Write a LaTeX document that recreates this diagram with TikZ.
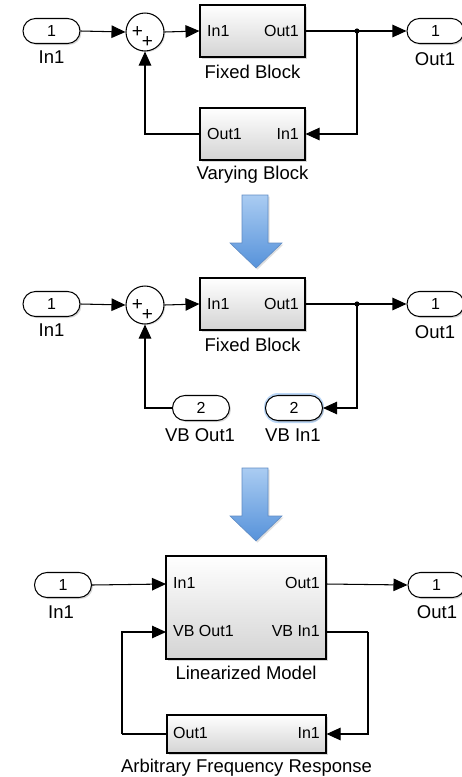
\documentclass[tikz,border=0pt]{standalone}
\usepackage{fontspec}
\setmainfont{Liberation Sans}
\usetikzlibrary{shadows,shapes.misc,arrows.meta}
\definecolor{arrowtop}{RGB}{170,204,242}
\definecolor{arrowbot}{RGB}{86,146,218}
\definecolor{arrowedge}{RGB}{96,140,196}
\definecolor{glow}{RGB}{170,205,245}
\begin{document}
\begin{tikzpicture}[x=1pt,y=-1pt,
  every node/.style={inner sep=0pt},
  lw/.style={line width=1.05pt},
  blk/.style={draw,lw,rectangle,top color=white,bottom color=black!17,
    drop shadow={shadow xshift=1.5pt,shadow yshift=-1.5pt,opacity=0.3}},
  port/.style={draw,lw,rounded rectangle,fill=white,minimum width=57pt,minimum height=25pt,
    font=\fontsize{16}{19}\selectfont,
    drop shadow={shadow xshift=1.5pt,shadow yshift=-1.5pt,opacity=0.3}},
  sumnode/.style={draw,lw,circle,fill=white,minimum size=38pt,
    drop shadow={shadow xshift=1.2pt,shadow yshift=-1.2pt,opacity=0.25}},
  plus/.style={font=\fontsize{19}{21}\selectfont},
  lbl/.style={font=\fontsize{18.5}{21}\selectfont},
  plbl/.style={font=\fontsize{16}{19}\selectfont},
  wire/.style={lw,-{Triangle[length=14pt,width=12.5pt]}},
  plainwire/.style={lw},
  bigarrow/.style={draw=arrowedge,line width=0.6pt,top color=arrowtop,bottom color=arrowbot,
    drop shadow={shadow xshift=1.5pt,shadow yshift=-1.5pt,opacity=0.25}},
]
\useasboundingbox (0,0) rectangle (461,777);

% ================= Section 1 =================
\node[port] (in1a) at (51.5,31) {1};
\node[lbl] (in1alab) at (51.5,57) {In1};
\node[sumnode] (suma) at (145,32) {};
\node[plus] (suma1) at (137.5,32) {+};
\node[plus] (suma2) at (147.5,42) {+};
\node[blk,minimum width=105pt,minimum height=52pt] (fixa) at (252.5,31) {};
\node[plbl,anchor=west] (fixain) at (207,31) {In1};
\node[plbl,anchor=east] (fixaout) at (299,31) {Out1};
\node[lbl] (fixalab) at (252.5,72) {Fixed Block};
\coordinate (ja) at (357,31);
\node[port] (out1a) at (435.5,31) {1};
\node[lbl] (out1alab) at (435,59) {Out1};
\node[blk,minimum width=105pt,minimum height=52pt] (vara) at (252.5,134) {};
\node[plbl,anchor=west] (varaout) at (207,134) {Out1};
\node[plbl,anchor=east] (varain) at (299,134) {In1};
\node[lbl] (varalab) at (252.5,175) {Varying Block};

\draw[wire] (in1a.east) -- (suma.west);
\draw[wire] (suma.east) -- (fixa.west);
\draw[plainwire] (fixa.east) -- (ja);
\draw[wire] (ja) -- (out1a.west);
\draw[wire] (ja) |- (vara.east);
\draw[wire] (vara.west) -| (suma.south);
\fill (ja) circle (2.6pt);

% big arrow 1
\path[bigarrow] (242,195) -- (268,195) -- (268,243) -- (282,243) -- (256,268) -- (230,243) -- (242,243) -- cycle;

% ================= Section 2 =================
\node[port] (in1b) at (51.5,304) {1};
\node[lbl] (in1blab) at (51.5,330) {In1};
\node[sumnode] (sumb) at (145,305) {};
\node[plus] (sumb1) at (137.5,305) {+};
\node[plus] (sumb2) at (147.5,315) {+};
\node[blk,minimum width=105pt,minimum height=52pt] (fixb) at (252.5,304) {};
\node[plbl,anchor=west] (fixbin) at (207,304) {In1};
\node[plbl,anchor=east] (fixbout) at (299,304) {Out1};
\node[lbl] (fixblab) at (252.5,345) {Fixed Block};
\coordinate (jb) at (357,304);
\node[port] (out1b) at (435.5,304) {1};
\node[lbl] (out1blab) at (435,332) {Out1};
\fill[glow,opacity=0.8,rounded corners=14pt] (264,393) rectangle (324,423);
\node[port] (vbo) at (201,408) {2};
\node[lbl] (vbolab) at (200,435) {VB Out1};
\node[port] (vbi) at (294,408) {2};
\node[lbl] (vbilab) at (293,435) {VB In1};

\draw[wire] (in1b.east) -- (sumb.west);
\draw[wire] (sumb.east) -- (fixb.west);
\draw[plainwire] (fixb.east) -- (jb);
\draw[wire] (jb) -- (out1b.west);
\draw[wire] (jb) |- (vbi.east);
\draw[wire] (vbo.west) -| (sumb.south);
\fill (jb) circle (2.6pt);

% big arrow 2
\path[bigarrow] (242,468) -- (268,468) -- (268,516) -- (282,516) -- (256,541) -- (230,516) -- (242,516) -- cycle;

% ================= Section 3 =================
\node[port] (in1c) at (63,585) {1};
\node[lbl] (in1clab) at (61,612) {In1};
\node[blk,minimum width=160pt,minimum height=103pt] (lm) at (246,607.5) {};
\node[plbl,anchor=west] (lmin) at (173,583) {In1};
\node[plbl,anchor=west] (lmvbo) at (173,631) {VB Out1};
\node[plbl,anchor=east] (lmout) at (320,583) {Out1};
\node[plbl,anchor=east] (lmvbi) at (320,631) {VB In1};
\node[lbl] (lmlab) at (246,673) {Linearized Model};
\coordinate (lmIn) at (166,584);
\coordinate (lmVBo) at (166,632);
\coordinate (lmOut) at (326,584);
\coordinate (lmVBi) at (326,632);
\node[port] (out1c) at (436.5,585) {1};
\node[lbl] (out1clab) at (437,612) {Out1};
\node[blk,minimum width=159pt,minimum height=38pt] (afr) at (246.5,734) {};
\node[plbl,anchor=west] (afrout) at (173,733) {Out1};
\node[plbl,anchor=east] (afrin) at (320,733) {In1};
\node[lbl] (afrlab) at (246.5,768) {Arbitrary Frequency Response};
\coordinate (rc) at (368,632);
\coordinate (lc) at (122,734);

\draw[wire] (in1c.east) -- (lmIn);
\draw[wire] (lmOut) -- (out1c.west);
\draw[plainwire] (lmVBi) -- (rc);
\draw[wire] (rc) |- (afr.east);
\draw[plainwire] (afr.west) -- (lc);
\draw[wire] (lc) |- (lmVBo);
\end{tikzpicture}
\end{document}
